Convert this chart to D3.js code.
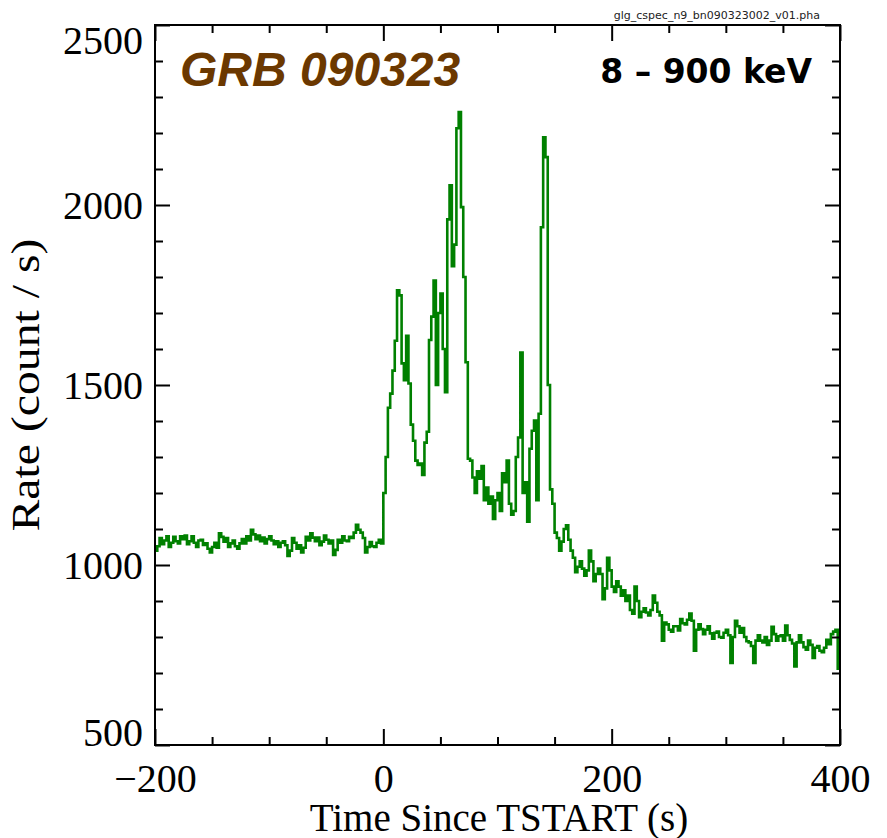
<!DOCTYPE html>
<html>
<head>
<meta charset="utf-8">
<script src="https://cdn.jsdelivr.net/npm/d3@7/dist/d3.min.js"></script>
<style>
  html, body { margin: 0; padding: 0; background: #fff; }
  svg { display: block; }
</style>
</head>
<body>
<svg id="chart" width="887" height="838"></svg>
<script>
// GBM NaI n9 CSPEC light curve of GRB 090323, summed 8–900 keV.
// Rates are count/s per bin; each segment has its own start time and bin width.

// Background before the trigger: t = -200 .. 0 s, 2 s bins
const preStart = -200, preWidth = 2;
const preRate = [
  1040, 1052, 1075, 1058, 1068, 1080, 1050, 1062, 1078, 1066,
  1060, 1080, 1072, 1082, 1058, 1066, 1080, 1062, 1050, 1068,
  1070, 1056, 1060, 1045, 1035, 1050, 1062, 1048, 1088, 1078,
  1065, 1075, 1050, 1060, 1068, 1052, 1045, 1060, 1072, 1060,
  1080, 1068, 1098, 1085, 1072, 1082, 1066, 1076, 1060, 1072,
  1080, 1068, 1058, 1066, 1050, 1062, 1066, 1055, 1025, 1040,
  1075, 1062, 1045, 1055, 1035, 1048, 1078, 1068, 1088, 1076,
  1066, 1076, 1055, 1065, 1082, 1070, 1060, 1068, 1028, 1042,
  1070, 1062, 1080, 1068, 1066, 1078, 1075, 1090, 1112, 1098,
  1090, 1075, 1035, 1050, 1064, 1052, 1050, 1062, 1070, 1060
];

// Prompt emission: t = 0 .. 160 s, 2 s bins
const burstStart = 0, burstWidth = 2;
const burstRate = [
  1200, 1300, 1437, 1476, 1540, 1623, 1763, 1749, 1560, 1513,
  1637, 1504, 1390, 1345, 1290, 1278, 1282, 1250, 1340, 1370,
  1625, 1690, 1790, 1500, 1700, 1754, 1600, 1480, 1960, 2055,
  1830, 1890, 2213, 2258, 1994, 1800, 1563, 1295, 1290, 1243,
  1200, 1260, 1240, 1275, 1180, 1215, 1170, 1190, 1128, 1180,
  1200, 1150, 1255, 1230, 1290, 1170, 1140, 1150, 1300, 1354,
  1590, 1200, 1230, 1120, 1323, 1373, 1401, 1180, 1420, 1938,
  2188, 2133, 1500, 1210, 1170, 1090, 1075, 1040, 1065, 1100
];

// Decaying tail: t = 160 .. 400 s, 2 s bins
const decayStart = 160, decayWidth = 2;
const decayRate = [
  1110, 1070, 1040, 1020,  980,  995, 1010,  990,  970,  985,
  1040, 1010,  955,  975,  990,  975,  905,  935, 1020,  985,
   940,  925,  955,  940,  915,  930,  900,  915,  875,  865,
   940,  900,  855,  870,  880,  868,  860,  875,  915,  895,
   870,  860,  790,  840,  835,  820,  815,  830,  830,  818,
   850,  838,  835,  848,  865,  845,  762,  820,  835,  822,
   808,  820,  830,  810,  795,  812,  815,  800,  798,  812,
   820,  805,  728,  800,  845,  830,  812,  825,  800,  788,
   785,  775,  728,  790,  805,  790,  785,  800,  778,  790,
   828,  808,  790,  802,  805,  790,  832,  805,  792,  782,
   718,  785,  805,  785,  772,  765,  790,  778,  742,  770,
   775,  762,  758,  770,  792,  780,  808,  815,  820,  712
];

// Axis ticks
const xMajorTicks = [-200, 0, 200, 400];
const xMinorTicks = [-150, -100, -50, 50, 100, 150, 250, 300, 350];
const yMajorTicks = [500, 1000, 1500, 2000, 2500];
const yMinorTicks = [600, 700, 800, 900, 1100, 1200, 1300, 1400, 1600, 1700,
                     1800, 1900, 2100, 2200, 2300, 2400];

// Labels
const burstName = "GRB 090323";
const energyBand = "8 \u2013 900 keV";
const fileName = "glg_cspec_n9_bn090323002_v01.pha";
const xTitle = "Time Since TSTART (s)";
const yTitle = "Rate (count / s)";

// ---------------------------------------------------------------
const svg = d3.select("#chart");
const plot = { left: 155, right: 840, top: 25, bottom: 745 };

const x = d3.scaleLinear().domain([-200, 400]).range([plot.left, plot.right]);
const y = d3.scaleLinear().domain([500, 2500]).range([plot.bottom, plot.top]);

// Expand segments into bins and then into step vertices
function toBins(start, width, rates) {
  return rates.map((r, i) => ({ t0: start + i * width, t1: start + (i + 1) * width, rate: r }));
}
const bins = [].concat(
  toBins(preStart, preWidth, preRate),
  toBins(burstStart, burstWidth, burstRate),
  toBins(decayStart, decayWidth, decayRate)
);
const steps = bins.map(b => [b.t0, b.rate]);
steps.push([bins[bins.length - 1].t1, bins[bins.length - 1].rate]);

svg.append("defs").append("clipPath").attr("id", "plot-clip")
  .append("rect")
  .attr("x", plot.left).attr("y", plot.top)
  .attr("width", plot.right - plot.left).attr("height", plot.bottom - plot.top);

const line = d3.line()
  .x(d => x(d[0]))
  .y(d => y(d[1]))
  .curve(d3.curveStepAfter);

svg.append("path")
  .datum(steps)
  .attr("clip-path", "url(#plot-clip)")
  .attr("fill", "none")
  .attr("stroke", "#008000")
  .attr("stroke-width", 2.6)
  .attr("stroke-linejoin", "miter")
  .attr("d", line);

// Axes: ticks point into the frame on all four sides
const serif = "'Liberation Serif', 'Times New Roman', serif";
function styleAxis(g, sw) {
  g.select(".domain").remove();
  g.selectAll(".tick line").attr("stroke", "#000").attr("stroke-width", sw);
}

const gxb = svg.append("g").attr("transform", `translate(0,${plot.bottom})`)
  .call(d3.axisBottom(x).tickValues(xMajorTicks).tickSize(-16).tickPadding(19)
    .tickFormat(d => d < 0 ? "\u2212" + Math.abs(d) : String(d)));
styleAxis(gxb, 2);
gxb.selectAll("text").attr("font-family", serif).attr("font-size", 40).attr("fill", "#000");

svg.append("g").attr("transform", `translate(0,${plot.bottom})`)
  .call(d3.axisBottom(x).tickValues(xMinorTicks).tickSize(-8).tickFormat(""))
  .call(g => styleAxis(g, 2));
svg.append("g").attr("transform", `translate(0,${plot.top})`)
  .call(d3.axisTop(x).tickValues(xMajorTicks).tickSize(-16).tickFormat(""))
  .call(g => styleAxis(g, 2));
svg.append("g").attr("transform", `translate(0,${plot.top})`)
  .call(d3.axisTop(x).tickValues(xMinorTicks).tickSize(-8).tickFormat(""))
  .call(g => styleAxis(g, 2));

const gyl = svg.append("g").attr("transform", `translate(${plot.left},0)`)
  .call(d3.axisLeft(y).tickValues(yMajorTicks).tickSize(-15).tickPadding(12)
    .tickFormat(d3.format("d")));
styleAxis(gyl, 2);
gyl.selectAll("text").attr("font-family", serif).attr("font-size", 40).attr("fill", "#000")
  .attr("dy", d => d === 500 ? "-0.0em" : d === 2500 ? "0.70em" : "0.34em");

svg.append("g").attr("transform", `translate(${plot.left},0)`)
  .call(d3.axisLeft(y).tickValues(yMinorTicks).tickSize(-8).tickFormat(""))
  .call(g => styleAxis(g, 2));
svg.append("g").attr("transform", `translate(${plot.right},0)`)
  .call(d3.axisRight(y).tickValues(yMajorTicks).tickSize(-15).tickFormat(""))
  .call(g => styleAxis(g, 2));
svg.append("g").attr("transform", `translate(${plot.right},0)`)
  .call(d3.axisRight(y).tickValues(yMinorTicks).tickSize(-8).tickFormat(""))
  .call(g => styleAxis(g, 2));

// Frame
svg.append("rect")
  .attr("x", plot.left).attr("y", plot.top)
  .attr("width", plot.right - plot.left).attr("height", plot.bottom - plot.top)
  .attr("fill", "none").attr("stroke", "#000").attr("stroke-width", 2);

// Axis titles
svg.append("text")
  .attr("x", 499).attr("y", 831)
  .attr("text-anchor", "middle")
  .attr("font-family", serif).attr("font-size", 39)
  .text(xTitle);

svg.append("text")
  .attr("transform", "translate(39,385) rotate(-90)")
  .attr("text-anchor", "middle")
  .attr("font-family", serif).attr("font-size", 41)
  .attr("textLength", 293).attr("lengthAdjust", "spacingAndGlyphs")
  .text(yTitle);

// Annotations
svg.append("text")
  .attr("x", 180).attr("y", 86)
  .attr("font-family", "'Liberation Sans', Arial, sans-serif")
  .attr("font-weight", "bold").attr("font-style", "italic")
  .attr("font-size", 48).attr("fill", "#6b3800")
  .text(burstName);

svg.append("text")
  .attr("x", 812).attr("y", 83)
  .attr("text-anchor", "end")
  .attr("font-family", "'DejaVu Sans', sans-serif")
  .attr("font-weight", "bold").attr("font-size", 33)
  .attr("fill", "#000")
  .text(energyBand);

svg.append("text")
  .attr("x", 820).attr("y", 19)
  .attr("text-anchor", "end")
  .attr("font-family", "'DejaVu Sans', sans-serif")
  .attr("font-size", 11).attr("fill", "#222")
  .text(fileName);
</script>
</body>
</html>
